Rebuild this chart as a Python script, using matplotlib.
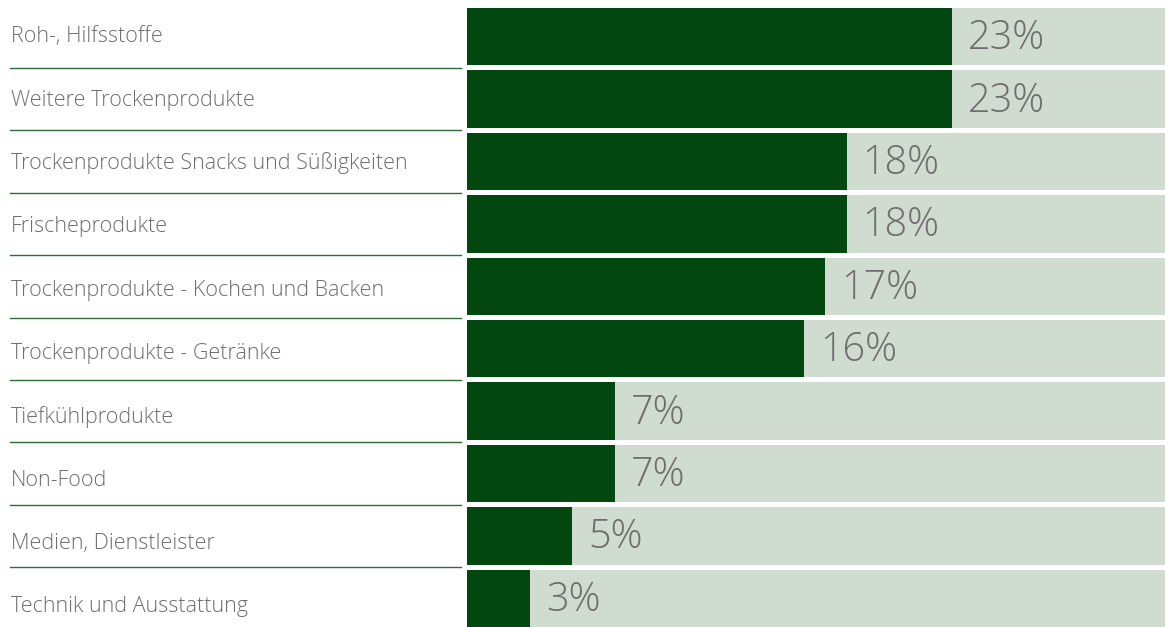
import matplotlib.pyplot as plt
from matplotlib.transforms import blended_transform_factory

categories = [
    "Roh-, Hilfsstoffe",
    "Weitere Trockenprodukte",
    "Trockenprodukte Snacks und Süßigkeiten",
    "Frischeprodukte",
    "Trockenprodukte - Kochen und Backen",
    "Trockenprodukte - Getränke",
    "Tiefkühlprodukte",
    "Non-Food",
    "Medien, Dienstleister",
    "Technik und Ausstattung",
]
values = [23, 23, 18, 18, 17, 16, 7, 7, 5, 3]
value_labels = ["23%", "23%", "18%", "18%", "17%", "16%", "7%", "7%", "5%", "3%"]

dark_green = "#02470f"
light_green = "#d0dccf"
text_gray = "#6e6e6e"
line_green = "#2f6b34"

plt.rcParams['font.family'] = ['Open Sans', 'DejaVu Sans']

W, H = 1165, 627
fig = plt.figure(figsize=(W / 100, H / 100), dpi=100)
ax = fig.add_axes([467 / W, 0, (W - 467) / W, 1])

xmax = 33.1
rows = list(range(len(categories)))
ax.barh(rows, [xmax] * len(rows), height=0.92, color=light_green, left=0)
ax.barh(rows, values, height=0.92, color=dark_green)
ax.set_xlim(0, xmax)
ax.set_ylim(9.46, -0.589)
ax.axis('off')

# Prozentwerte rechts neben dem dunklen Balken
for i, v in enumerate(values):
    ax.annotate(value_labels[i], (v, i), xytext=(16, -2), textcoords='offset pixels',
                va='center', ha='left', fontsize=28.5, color=text_gray, fontweight='light')

# Kategorienamen links, mit Trennlinien
trans = blended_transform_factory(fig.transFigure, ax.transData)
for i, name in enumerate(categories):
    fig.text(11 / W, i + 0.015 * i, name, transform=trans, va='center', ha='left',
             fontsize=15.5, color=text_gray, fontweight='light')
for i in range(len(categories) - 1):
    ax.plot([10 / W, 461 / W], [i + 0.5, i + 0.5], transform=trans, color=line_green,
            lw=1, clip_on=False)

fig.savefig("out.png", dpi=100)
